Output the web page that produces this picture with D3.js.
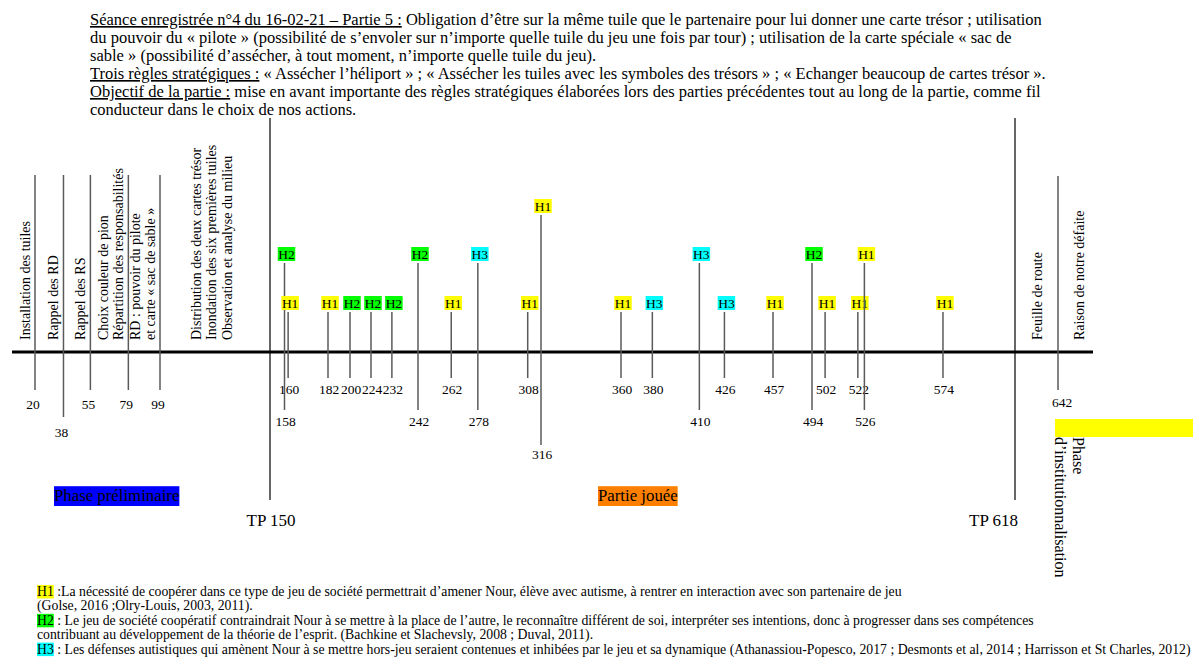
<!DOCTYPE html>
<html><head><meta charset="utf-8">
<script src="https://cdn.jsdelivr.net/npm/d3@7"></script>
<style>
html,body{margin:0;padding:0;background:#fff;}
svg{display:block;font-family:"Liberation Serif","Times New Roman",serif;}
</style></head><body>
<svg id="chart" width="1193" height="657"></svg>
<script>
// ---------- data ----------
const prelimTimes = [20, 38, 55, 79, 99];
const prelimTexts = [
  ["Installation des tuiles"],
  ["Rappel des RD"],
  ["Rappel des RS"],
  ["Choix couleur de pion", "Répartition des responsabilités"],
  ["RD : pouvoir du pilote", "et carte « sac de sable »"]
];
const prelimDepth = [0, 1, 0, 0, 0];
const distributionTexts = ["Distribution des deux cartes trésor", "Inondation des six premières tuiles", "Observation et analyse du milieu"];
const turningPoints = [150, 618];
const turningLabels = ["TP 150", "TP 618"];
const gameTimes = [158, 160, 182, 200, 224, 232, 242, 262, 278, 308, 316, 360, 380, 410, 426, 457, 494, 502, 522, 526, 574];
const gameHyp   = ["H2","H1","H1","H2","H2","H2","H2","H1","H3","H1","H1","H1","H3","H3","H3","H1","H2","H1","H1","H1","H1"];
const gameTier  = [1, 0, 0, 0, 0, 0, 1, 0, 1, 0, 2, 0, 0, 1, 0, 0, 1, 0, 0, 1, 0];
const finalTimes = [642];
const finalTexts = [["Raison de notre défaite"]];
const roadmapText = "Feuille de route";
const phaseLabels = ["Phase préliminaire", "Partie jouée", "Phase", "d’institutionnalisation"];
const hypKeys = ["H1", "H2", "H3"];
const hypColors = ["#FFFF00", "#00FF00", "#00FFFF"];
const headerLines = [
  [["Séance enregistrée n°4 du 16-02-21 – Partie 5 :", true], [" Obligation d’être sur la même tuile que le partenaire pour lui donner une carte trésor ; utilisation", false]],
  [["du pouvoir du « pilote » (possibilité de s’envoler sur n’importe quelle tuile du jeu une fois par tour) ; utilisation de la carte spéciale « sac de", false]],
  [["sable » (possibilité d’assécher, à tout moment, n’importe quelle tuile du jeu).", false]],
  [["Trois règles stratégiques :", true], [" « Assécher l’héliport » ; « Assécher les tuiles avec les symboles des trésors » ; « Echanger beaucoup de cartes trésor ».", false]],
  [["Objectif de la partie :", true], [" mise en avant importante des règles stratégiques élaborées lors des parties précédentes tout au long de la partie, comme fil", false]],
  [["conducteur dans le choix de nos actions.", false]]
];
const legendLines = [
  ["H1", " :La nécessité de coopérer dans ce type de jeu de société permettrait d’amener Nour, élève avec autisme, à rentrer en interaction avec son partenaire de jeu"],
  [null, "(Golse, 2016 ;Olry-Louis, 2003, 2011)."],
  ["H2", " : Le jeu de société coopératif contraindrait Nour à se mettre à la place de l’autre, le reconnaître différent de soi, interpréter ses intentions, donc à progresser dans ses compétences"],
  [null, "contribuant au développement de la théorie de l’esprit. (Bachkine et Slachevsly, 2008 ; Duval, 2011)."],
  ["H3", " : Les défenses autistiques qui amènent Nour à se mettre hors-jeu seraient contenues et inhibées par le jeu et sa dynamique (Athanassiou-Popesco, 2017 ; Desmonts et al, 2014 ; Harrisson et St Charles, 2012)"]
];

// ---------- scales ----------
const svg = d3.select("#chart");
// the hand-drawn timeline is not proportional: a polylinear time scale
const x = d3.scaleLinear()
  .domain([20, 99, 150, 182, 200, 224, 242, 316, 360, 457, 494, 618, 642])
  .range([35, 160, 270, 328, 350, 371, 418, 541, 621, 773, 812, 1015, 1058]);
const hypColor = d3.scaleOrdinal().domain(hypKeys).range(hypColors);
const tagY = d3.scaleOrdinal().domain([0, 1, 2]).range([303, 254, 206]);
const gameBottom = d3.scaleOrdinal().domain([0, 1, 2]).range([378, 410, 445]);
const gameLabelY = d3.scaleOrdinal().domain([0, 1, 2]).range([394, 426, 459]);
const prelimBottom = d3.scaleOrdinal().domain([0, 1]).range([390, 417]);
const prelimLabelY = d3.scaleOrdinal().domain([0, 1]).range([409, 437]);
const axisY = 352;
const lineColor = "#5a5a5a";
const rotFs = 14;

// ---------- header ----------
const header = svg.append("g").attr("font-size", 16.5).attr("fill", "#000");
headerLines.forEach((parts, i) => {
  const t = header.append("text").attr("x", 90).attr("y", 25 + i * 18).attr("xml:space", "preserve");
  parts.forEach(([s, u]) => {
    const ts = t.append("tspan").text(s);
    if (u) ts.attr("text-decoration", "underline");
  });
});

// ---------- main axis ----------
svg.append("line").attr("x1", 12).attr("x2", 1093).attr("y1", axisY).attr("y2", axisY)
  .attr("stroke", "#000").attr("stroke-width", 3);

// ---------- turning points ----------
turningPoints.forEach((tp, i) => {
  svg.append("line").attr("x1", x(tp)).attr("x2", x(tp)).attr("y1", 118).attr("y2", 500)
    .attr("stroke", "#000").attr("stroke-width", 1.2);
  svg.append("text").attr("x", i === 0 ? x(tp) + 1 : x(tp) + 3).attr("y", 526)
    .attr("text-anchor", i === 0 ? "middle" : "end").attr("font-size", 17).text(turningLabels[i]);
});

// ---------- preliminary events ----------
prelimTimes.forEach((t, i) => {
  const px = x(t);
  svg.append("line").attr("x1", px).attr("x2", px).attr("y1", 175).attr("y2", prelimBottom(prelimDepth[i]))
    .attr("stroke", lineColor).attr("stroke-width", 1.5);
  svg.append("text").attr("x", px - 2).attr("y", prelimLabelY(prelimDepth[i])).attr("text-anchor", "middle")
    .attr("font-size", 13.5).text(t);
  const lines = prelimTexts[i];
  lines.forEach((s, j) => {
    const bx = px - 5 - (lines.length - 1 - j) * 15;
    svg.append("text").attr("transform", `translate(${bx},340) rotate(-90)`).attr("font-size", rotFs).text(s);
  });
});
// distribution block between last preliminary event and TP 150
{
  const mid = (x(prelimTimes[prelimTimes.length - 1]) + x(turningPoints[0])) / 2;
  distributionTexts.forEach((s, j) => {
    const bx = mid + 1 + (j - 1) * 15.5;
    svg.append("text").attr("transform", `translate(${bx},340) rotate(-90)`).attr("font-size", rotFs).text(s);
  });
}

// ---------- game events ----------
gameTimes.forEach((t, i) => {
  const px = x(t), tier = gameTier[i], ty = tagY(tier);
  svg.append("line").attr("x1", px).attr("x2", px).attr("y1", ty + 9).attr("y2", gameBottom(tier))
    .attr("stroke", lineColor).attr("stroke-width", 1.5);
  svg.append("text").attr("x", px + 1).attr("y", gameLabelY(tier)).attr("text-anchor", "middle")
    .attr("font-size", 13.5).text(t);
  const g = svg.append("g");
  const txt = g.append("text").attr("x", px + 2).attr("y", ty + 4.5).attr("text-anchor", "middle")
    .attr("font-size", 13.5).text(gameHyp[i]);
  const w = txt.node().getComputedTextLength();
  g.insert("rect", "text").attr("x", px + 2 - w / 2 - 0.5).attr("y", ty - 7).attr("width", w + 1).attr("height", 14)
    .attr("fill", hypColor(gameHyp[i]));
});

// ---------- final events ----------
finalTimes.forEach((t, i) => {
  const px = x(t);
  svg.append("line").attr("x1", px).attr("x2", px).attr("y1", 176).attr("y2", 390)
    .attr("stroke", lineColor).attr("stroke-width", 1.5);
  svg.append("text").attr("x", px + 4).attr("y", 407).attr("text-anchor", "middle").attr("font-size", 13.5).text(t);
  finalTexts[i].forEach((s) => {
    svg.append("text").attr("transform", `translate(${px + 26},340) rotate(-90)`).attr("font-size", rotFs).text(s);
  });
});
{
  const mid = (x(turningPoints[1]) + x(finalTimes[0])) / 2;
  svg.append("text").attr("transform", `translate(${mid + 5.5},340) rotate(-90)`).attr("font-size", rotFs).text(roadmapText);
}

// ---------- phase labels ----------
function boxedLabel(label, x0, baseline, color, fs) {
  const g = svg.append("g");
  const t = g.append("text").attr("x", x0).attr("y", baseline).attr("font-size", fs).text(label);
  const w = t.node().getComputedTextLength();
  g.insert("rect", "text").attr("x", x0).attr("y", baseline - fs + 2).attr("width", w).attr("height", fs + 3).attr("fill", color);
}
boxedLabel(phaseLabels[0], 54, 501, "#0000FF", 16.8);
boxedLabel(phaseLabels[1], 598, 501, "#FF8000", 16.8);
svg.append("rect").attr("x", 1055).attr("y", 419).attr("width", 138).attr("height", 18).attr("fill", "#FFFF00");
svg.append("text").attr("transform", "translate(1073,437) rotate(90)").attr("font-size", 16).text(phaseLabels[2]);
svg.append("text").attr("transform", "translate(1055,437) rotate(90)").attr("font-size", 16).text(phaseLabels[3]);

// ---------- legend ----------
const legend = svg.append("g").attr("font-size", 13.75);
legendLines.forEach(([key, s], i) => {
  const baseline = 596 + i * 14.4;
  const t = legend.append("text").attr("x", 37).attr("y", baseline).attr("xml:space", "preserve");
  if (key) {
    const k = t.append("tspan").text(key);
    const w = k.node().getComputedTextLength();
    legend.insert("rect", "text").attr("x", 37).attr("y", baseline - 11).attr("width", w).attr("height", 13.5)
      .attr("fill", hypColor(key));
  }
  t.append("tspan").text(s);
});
</script>
</body></html>
